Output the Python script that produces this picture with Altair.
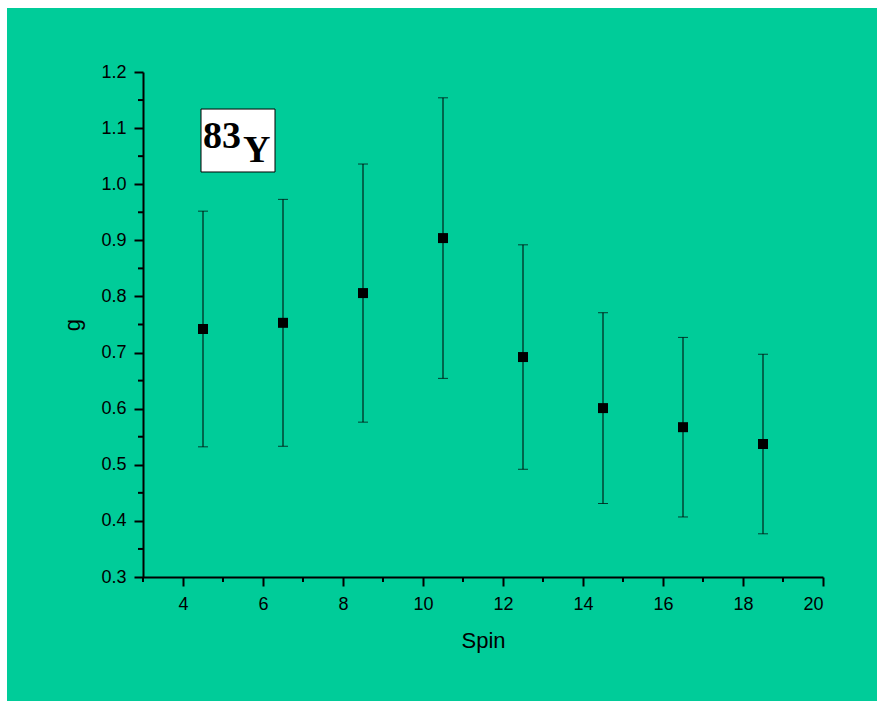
import altair as alt
import pandas as pd

spin = [4.5, 6.5, 8.5, 10.5, 12.5, 14.5, 16.5, 18.5]
g_val = [0.742, 0.753, 0.806, 0.904, 0.692, 0.601, 0.567, 0.537]
g_err = [0.21, 0.22, 0.23, 0.25, 0.20, 0.17, 0.16, 0.16]

x_major = [4, 6, 8, 10, 12, 14, 16, 18, 20]
x_minor = [3, 5, 7, 9, 11, 13, 15, 17, 19]
y_major = [0.3, 0.4, 0.5, 0.6, 0.7, 0.8, 0.9, 1.0, 1.1, 1.2]
y_minor = [0.35, 0.45, 0.55, 0.65, 0.75, 0.85, 0.95, 1.05, 1.15]

GREEN = "#00CC99"
W, H = 680, 505

df = pd.DataFrame({
    "spin": spin,
    "g": g_val,
    "lo": [v - e for v, e in zip(g_val, g_err)],
    "hi": [v + e for v, e in zip(g_val, g_err)],
})

xs = alt.Scale(domain=[3, 20], nice=False, zero=False)
ys = alt.Scale(domain=[0.3, 1.2], nice=False, zero=False)

x_axis = alt.Axis(values=x_major, title="Spin", grid=False, tickSize=9, tickWidth=2,
                  domainWidth=2, domainColor="black", tickColor="black", zindex=1,
                  labelFont="Liberation Sans", labelFontSize=18, labelColor="black",
                  labelPadding=9, titleFont="Liberation Sans", titleFontSize=22,
                  titleFontWeight="normal", titleColor="black", titleBaseline="alphabetic",
                  titleX=W / 2, titleY=70, titleAlign="center")
y_axis = alt.Axis(values=y_major, format=".1f", title="g", grid=False, tickSize=9,
                  tickWidth=2, domainWidth=2, domainColor="black", tickColor="black", zindex=1,
                  labelFont="Liberation Sans", labelFontSize=18, labelColor="black",
                  labelPadding=8, titleFont="Liberation Sans", titleFontSize=22,
                  titleFontWeight="normal", titleColor="black", titleBaseline="alphabetic",
                  titleAngle=-90, titleX=-64, titleY=H / 2, titleAlign="center")

bg = alt.Chart(pd.DataFrame({"a": [0]})).mark_rect(color=GREEN, clip=False).encode(
    x=alt.value(7 - 143), x2=alt.value(877 - 143),
    y=alt.value(8 - 72), y2=alt.value(701 - 72))

base = alt.Chart(df)

bars = base.mark_rule(color="black", strokeWidth=1).encode(
    x=alt.X("spin:Q", scale=xs, axis=x_axis),
    y=alt.Y("lo:Q", scale=ys, axis=y_axis),
    y2="hi:Q")
cap_lo = base.mark_tick(color="black", orient="horizontal", size=10, thickness=1).encode(
    x=alt.X("spin:Q", scale=xs), y=alt.Y("lo:Q", scale=ys))
cap_hi = base.mark_tick(color="black", orient="horizontal", size=10, thickness=1).encode(
    x=alt.X("spin:Q", scale=xs), y=alt.Y("hi:Q", scale=ys))
pts = base.mark_square(color="black", size=100, opacity=1).encode(
    x=alt.X("spin:Q", scale=xs), y=alt.Y("g:Q", scale=ys))

xminor = alt.Chart(pd.DataFrame({"v": x_minor})).mark_rule(
    color="black", strokeWidth=2, clip=False).encode(
    x=alt.X("v:Q", scale=xs), y=alt.value(H), y2=alt.value(H + 5))
yminor = alt.Chart(pd.DataFrame({"v": y_minor})).mark_rule(
    color="black", strokeWidth=2, clip=False).encode(
    y=alt.Y("v:Q", scale=ys), x=alt.value(0), x2=alt.value(-5))

# annotation box "83Y"
box = alt.Chart(pd.DataFrame({"x1": [4.45], "x2": [6.3], "y1": [1.134], "y2": [1.0218]})).mark_rect(
    fill="white", stroke="black", strokeWidth=1).encode(
    x=alt.X("x1:Q", scale=xs), x2="x2:Q", y=alt.Y("y1:Q", scale=ys), y2="y2:Q")
lab_mass = alt.Chart(pd.DataFrame({"x": [4.5], "y": [1.0646], "t": ["83"]})).mark_text(
    font="Liberation Serif", fontWeight="bold", fontSize=38, align="left",
    baseline="alphabetic", color="black").encode(
    x=alt.X("x:Q", scale=xs), y=alt.Y("y:Q", scale=ys), text="t:N")
lab_el = alt.Chart(pd.DataFrame({"x": [5.5], "y": [1.0396], "t": ["Y"]})).mark_text(
    font="Liberation Serif", fontWeight="bold", fontSize=38, align="left",
    baseline="alphabetic", color="black").encode(
    x=alt.X("x:Q", scale=xs), y=alt.Y("y:Q", scale=ys), text="t:N")

chart = alt.layer(bg, bars, cap_lo, cap_hi, pts, xminor, yminor, box, lab_mass, lab_el).properties(
    width=W, height=H,
    autosize=alt.AutoSizeParams(type="none"),
    padding={"left": 143, "top": 72, "right": 54, "bottom": 124},
    background="white",
).configure_view(stroke=None)

chart.save("out.html", embed_options={"renderer": "svg", "actions": False})
